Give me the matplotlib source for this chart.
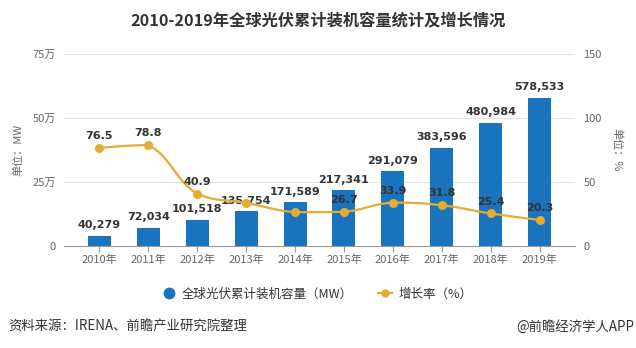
import numpy as np
import matplotlib
matplotlib.use("Agg")
import matplotlib.pyplot as plt
from matplotlib.lines import Line2D

plt.rcParams['font.family'] = ['Noto Sans CJK SC', 'DejaVu Sans']

years = ['2010年', '2011年', '2012年', '2013年', '2014年', '2015年', '2016年', '2017年', '2018年', '2019年']
capacity = [40279, 72034, 101518, 135754, 171589, 217341, 291079, 383596, 480984, 578533]
growth = [76.5, 78.8, 40.9, 33.7, 26.4, 26.7, 33.9, 31.8, 25.4, 20.3]
growth_labels = ['76.5', '78.8', '40.9', '', '', '26.7', '33.9', '31.8', '25.4', '20.3']
left_ticks = [0, 250000, 500000, 750000]
left_ticklabels = ['0', '25万', '50万', '75万']
right_ticks = [0, 50, 100, 150]
right_ticklabels = ['0', '50', '100', '150']

BLUE = '#1a73bd'
GOLD = '#e6ac2f'
GRAY = '#666666'
DARK = '#333333'

W, H = 636, 348
fig = plt.figure(figsize=(W / 100, H / 100), dpi=100)
ax = fig.add_axes([64 / W, 1 - 246 / H, (575 - 64) / W, (246 - 54) / H])
ax2 = ax.twinx()

x = np.arange(len(years))
ax.bar(x, capacity, width=0.47, color=BLUE, zorder=2)
ax.set_ylim(0, 750000)
ax.set_xlim(-0.72, 9.72)
ax.set_yticks(left_ticks)
ax.set_yticklabels(left_ticklabels)
ax.set_xticks(x)
ax.set_xticklabels(years)
ax.grid(axis='y', color='#e3e3e3', linewidth=0.8, zorder=0)
ax.set_axisbelow(True)
for s in ['top', 'right', 'left']:
    ax.spines[s].set_visible(False)
ax.spines['bottom'].set_color('#999999')
ax.spines['bottom'].set_linewidth(0.8)
ax.tick_params(axis='y', length=0, pad=6, labelsize=8, labelcolor=GRAY)
ax.tick_params(axis='x', length=4, color='#999999', pad=2, labelsize=8, labelcolor=GRAY)

for xi, v in zip(x, capacity):
    ax.annotate(f'{v:,}', (xi, v), xytext=(0, 4), textcoords='offset points',
                ha='center', va='bottom', fontsize=8, fontweight='bold', color=DARK,
                family='DejaVu Sans', zorder=6)

# smooth line (monotone bezier drawn through data points)
ax2.set_ylim(0, 150)
ax2.set_xlim(ax.get_xlim())
px = x * 49.0
py = np.array(growth) * 1.28
n = len(px)
xs, ys = [], []
sm = 0.45
for i in range(n - 1):
    p0 = np.array([px[max(i - 1, 0)], py[max(i - 1, 0)]])
    p1 = np.array([px[i], py[i]])
    p2 = np.array([px[i + 1], py[i + 1]])
    p3 = np.array([px[min(i + 2, n - 1)], py[min(i + 2, n - 1)]])
    c1 = p1 + (p2 - p0) * sm / 2 if i > 0 else p1.copy()
    c2 = p2 - (p3 - p1) * sm / 2 if i + 1 < n - 1 else p2.copy()
    lo, hi = min(p1[1], p2[1]), max(p1[1], p2[1])
    c1[1] = np.clip(c1[1], lo, hi)
    c2[1] = np.clip(c2[1], lo, hi)
    t = np.linspace(0, 1, 30)[:, None]
    pts = (1 - t) ** 3 * p1 + 3 * (1 - t) ** 2 * t * c1 + 3 * (1 - t) * t ** 2 * c2 + t ** 3 * p2
    xs.extend(pts[:, 0] / 49.0)
    ys.extend(pts[:, 1] / 1.28)
ax2.plot(xs, ys, color=GOLD, linewidth=1.6, zorder=3)
ax2.plot(x, growth, linestyle='none', marker='o', markersize=5.5, color=GOLD, zorder=4)
for xi, v, lab in zip(x, growth, growth_labels):
    if lab:
        ax2.annotate(lab, (xi, v), xytext=(0, 5), textcoords='offset points',
                     ha='center', va='bottom', fontsize=8, fontweight='bold', color=DARK,
                     family='DejaVu Sans', zorder=6)
ax2.set_yticks(right_ticks)
ax2.set_yticklabels(right_ticklabels)
for s in ['top', 'right', 'left', 'bottom']:
    ax2.spines[s].set_visible(False)
ax2.tick_params(axis='y', length=0, pad=6, labelsize=8, labelcolor=GRAY)

# axis unit labels
fig.text(18 / W, 1 - 150 / H, '单位：MW', rotation=90, ha='center', va='center', fontsize=8, color=GRAY)
fig.text(617 / W, 1 - 150 / H, '单位：%', rotation=-90, ha='center', va='center', fontsize=8, color=GRAY)

# title
fig.text(318 / W, 1 - 20 / H, '2010-2019年全球光伏累计装机容量统计及增长情况', ha='center', va='center',
         fontsize=11.7, fontweight='bold', color=DARK)

# legend
handles = [Line2D([], [], linestyle='none', marker='o', markersize=7.5, color=BLUE),
           Line2D([], [], color=GOLD, linewidth=1.6, marker='o', markersize=5)]
fig.legend(handles, ['全球光伏累计装机容量（MW）', '增长率（%）'], loc='center', bbox_to_anchor=(317 / W, 1 - 294 / H),
           ncol=2, frameon=False, fontsize=9, handlelength=1.1, handletextpad=0.5, columnspacing=2.0,
           labelcolor=DARK)

fig.text(8 / W, 1 - 327 / H, '资料来源：IRENA、前瞻产业研究院整理', ha='left', va='center', fontsize=9.6, color=DARK)
fig.text(634 / W, 1 - 327 / H, '@前瞻经济学人APP', ha='right', va='center', fontsize=9.6, color=DARK)

fig.savefig('out.png', dpi=100)
